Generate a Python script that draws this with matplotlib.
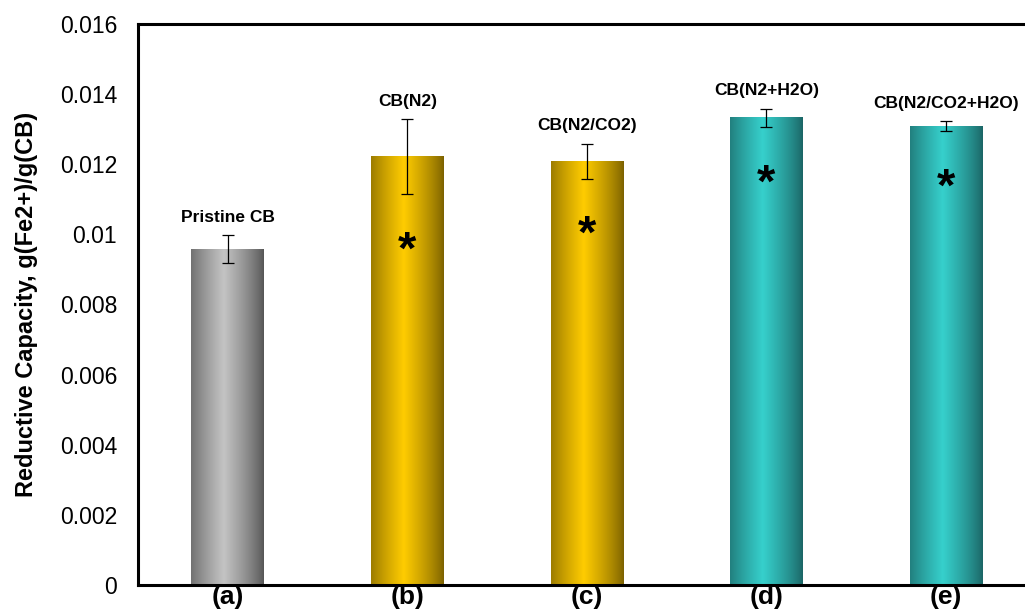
import numpy as np
import matplotlib
matplotlib.use("Agg")
import matplotlib.pyplot as plt
from matplotlib.ticker import FuncFormatter, MultipleLocator

plt.rcParams["font.family"] = ["Liberation Sans", "DejaVu Sans"]

letters = ["(a)", "(b)", "(c)", "(d)", "(e)"]
names = ["Pristine CB", "CB(N2)", "CB(N2/CO2)", "CB(N2+H2O)", "CB(N2/CO2+H2O)"]
capacity = [0.00958, 0.01221, 0.01209, 0.01332, 0.01309]
errors = [0.00040, 0.00107, 0.00050, 0.00026, 0.00014]
significant = [False, True, True, True, True]

# edge / centre colours for the cylinder-like shading
edge_cols = ["#555555", "#7a6000", "#7a6000", "#1b6464", "#1b6464"]
mid_cols = ["#c4c4c4", "#ffcc00", "#ffcc00", "#36d0cc", "#36d0cc"]


def hex_rgb(h):
    h = h.lstrip("#")
    return np.array([int(h[i:i + 2], 16) for i in (0, 2, 4)]) / 255.0


def gradient(edge, mid, n=200):
    t = np.linspace(0, 1, n)
    # brightest a bit left of centre, darker toward the edges
    w = np.clip(1 - np.abs(t - 0.45) / 0.55, 0, 1) ** 0.8
    e, m = hex_rgb(edge), hex_rgb(mid)
    row = e[None, :] * (1 - w[:, None]) + m[None, :] * w[:, None]
    return row[None, :, :]


fig = plt.figure(figsize=(10.25, 6.15), dpi=100)
ax = fig.add_axes([0.1346, 0.0488, 0.876, 0.9122])

x = np.arange(len(letters))
width = 0.405
for i in x:
    img = gradient(edge_cols[i], mid_cols[i])
    ax.imshow(img, extent=(i - width / 2, i + width / 2, 0, capacity[i]),
              aspect="auto", interpolation="bilinear", zorder=2)

ax.errorbar(x, capacity, yerr=errors, fmt="none", ecolor="black",
            elinewidth=0.9, capsize=4, capthick=0.9, zorder=3)

for i in x:
    ax.text(i, capacity[i] + errors[i] + 0.0003, names[i], ha="center",
            va="bottom", fontsize=12.5, fontweight="bold")
    if significant[i]:
        # star sits a little below the lower whisker
        ax.text(i, capacity[i] - errors[i] - 0.00164, "*", ha="center",
                va="center", fontsize=34, fontweight="bold", zorder=4)

ax.set_xlim(-0.5, 4.5)
ax.set_ylim(0, 0.016)
ax.yaxis.set_major_locator(MultipleLocator(0.002))
ax.yaxis.set_major_formatter(FuncFormatter(lambda v, p: f"{v:g}"))
ax.set_xticks(x)
ax.set_xticklabels(letters, fontsize=19, fontweight="bold")
ax.tick_params(axis="y", length=0, pad=15, labelsize=16.5)
ax.tick_params(axis="x", length=0, pad=0)
for s in ax.spines.values():
    s.set_linewidth(2.2)
ax.set_ylabel("Reductive Capacity, g(Fe2+)/g(CB)", fontsize=17,
              fontweight="bold", labelpad=16)

fig.savefig("out.png", dpi=100)
